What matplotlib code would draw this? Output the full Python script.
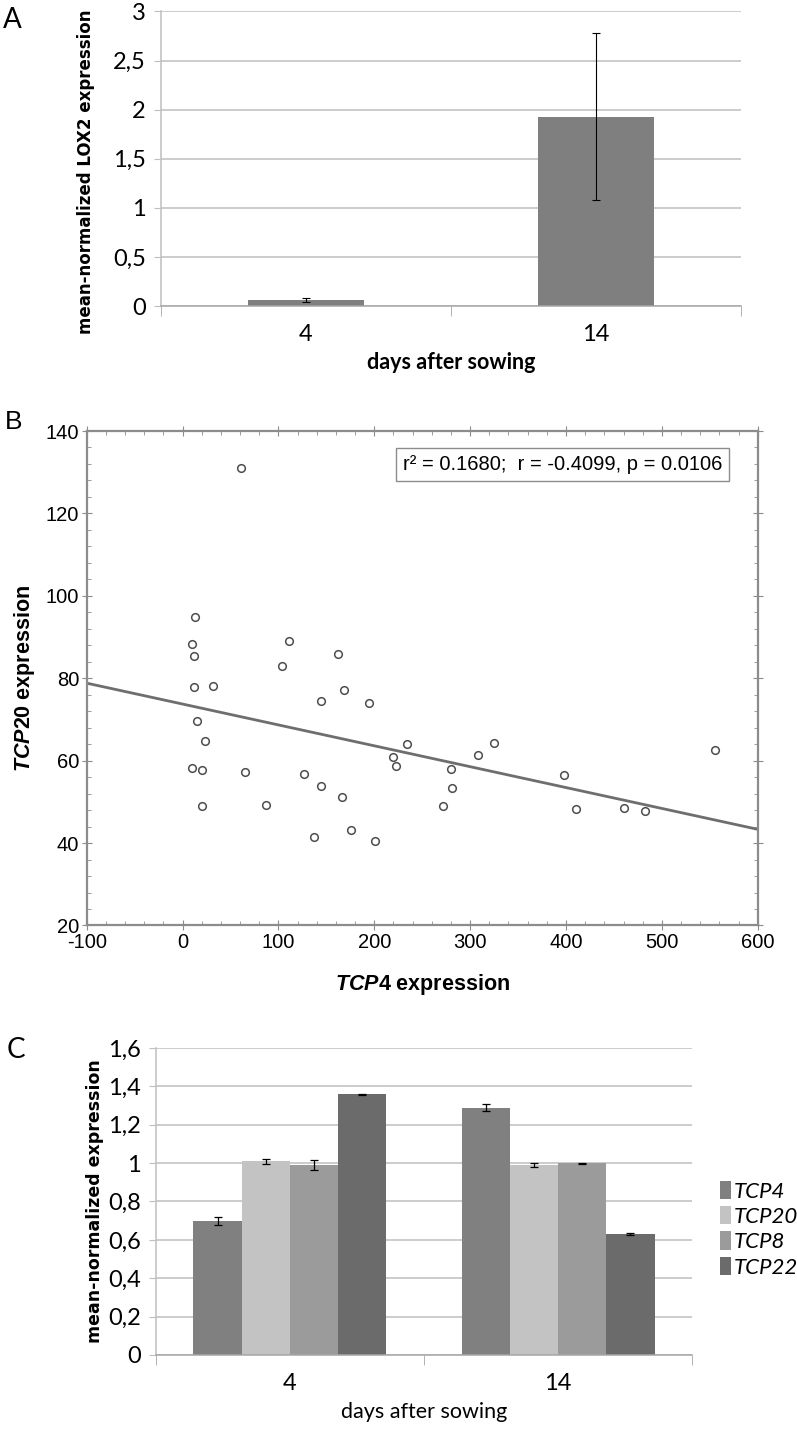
import numpy as np
import matplotlib
matplotlib.use("Agg")
import matplotlib.pyplot as plt
from matplotlib.ticker import MultipleLocator, FixedLocator
from matplotlib.patches import Patch

# -------------------------------------------------
# DATA
# -------------------------------------------------
# Panel A: LOX2
lox2_days = ["4", "14"]
lox2_mean = [0.06, 1.93]
lox2_err = [0.02, 0.85]

# Panel B: TCP4 vs TCP20 expression
tcp4_expr = [60.9, 12.9, 9.5, 12.2, 111.3, 162.4, 104.0, 11.6, 32.0, 144.0,
             15.0, 23.4, 9.5, 20.5, 65.4, 126.9, 144.0, 20.5, 87.0, 168.3,
             194.4, 234.0, 220.0, 222.5, 308.3, 324.7, 279.6, 166.2, 280.9, 271.8,
             397.7, 410.5, 460.0, 482.5, 555.5, 136.7, 175.6, 200.3]
tcp20_expr = [131.0, 94.8, 88.2, 85.3, 89.1, 85.8, 83.0, 77.9, 78.2, 74.4,
              69.7, 64.8, 58.1, 57.7, 57.2, 56.8, 53.8, 49.0, 49.3, 77.2,
              73.9, 64.0, 60.8, 58.7, 61.4, 64.3, 57.9, 51.2, 53.3, 49.1,
              56.4, 48.3, 48.5, 47.8, 62.6, 41.4, 43.1, 40.6]
stats_text = "r\u00b2 = 0.1680;  r = -0.4099, p = 0.0106"

# Panel C: TCP genes
tcp_days = ["4", "14"]
tcp_genes = ["TCP4", "TCP20", "TCP8", "TCP22"]
tcp_day4 = [0.70, 1.01, 0.99, 1.36]
tcp_day4_err = [0.02, 0.014, 0.026, 0.003]
tcp_day14 = [1.29, 0.99, 1.00, 0.63]
tcp_day14_err = [0.018, 0.01, 0.003, 0.007]
tcp_colors = ["#808080", "#c3c3c3", "#9b9b9b", "#6b6b6b"]

# -------------------------------------------------
# STYLE
# -------------------------------------------------
plt.rcParams["axes.unicode_minus"] = False
plt.rcParams["mathtext.fontset"] = "custom"
plt.rcParams["mathtext.it"] = "Liberation Sans:italic:bold"
plt.rcParams["mathtext.rm"] = "Liberation Sans:bold"
plt.rcParams["mathtext.bf"] = "Liberation Sans:bold"

CAL = "Lato"            # stand-in for the Excel default font
ARIAL = "Liberation Sans"
GRID = "#bfbfbf"


def fmt_comma(v):
    return f"{v:g}".replace(".", ",")


def excel_axes(ax, ymax, ystep):
    ax.set_ylim(0, ymax)
    yt = np.arange(0, ymax + ystep / 2, ystep)
    ax.set_yticks(yt)
    ax.set_yticklabels([fmt_comma(round(v, 2)) for v in yt], fontfamily=CAL, fontsize=17)
    ax.grid(True, axis="y", color=GRID, linewidth=1.1)
    ax.set_axisbelow(True)
    for s in ["top", "right"]:
        ax.spines[s].set_visible(False)
    ax.spines["left"].set_color(GRID)
    ax.spines["bottom"].set_color("#a6a6a6")
    ax.spines["left"].set_linewidth(1.1)
    ax.spines["bottom"].set_linewidth(1.1)
    ax.tick_params(axis="y", length=5, color=GRID, pad=6)
    ax.set_xlim(-0.5, 1.5)
    ax.xaxis.set_minor_locator(FixedLocator([-0.5, 0.5, 1.5]))
    ax.tick_params(axis="x", which="major", length=0, pad=13)
    ax.tick_params(axis="x", which="minor", length=7, color="#a6a6a6")


fig = plt.figure(figsize=(7.97, 14.30), dpi=100)

# -------------------------------------------------
# PANEL A
# -------------------------------------------------
axA = fig.add_axes([0.202, 0.786, 0.728, 0.206])
xa = np.arange(len(lox2_days))
axA.bar(xa, lox2_mean, width=0.4, color="#7f7f7f", yerr=lox2_err,
        error_kw=dict(ecolor="black", elinewidth=0.8, capsize=3, capthick=0.8))
excel_axes(axA, 3, 0.5)
axA.set_xticks(xa)
axA.set_xticklabels(lox2_days, fontfamily=CAL, fontsize=17)
axA.set_xlabel("days after sowing", fontfamily=CAL, fontweight="bold", fontsize=15.5, labelpad=5)
fig.text(0.108, 0.880, "mean-normalized LOX2 expression", rotation=90, ha="center", va="center",
         fontfamily="DejaVu Sans", fontweight="bold", fontsize=12)
fig.text(0.004, 0.995, "A", ha="left", va="top", fontfamily=CAL, fontsize=20)

# -------------------------------------------------
# PANEL B
# -------------------------------------------------
axB = fig.add_axes([0.1088, 0.3528, 0.8419, 0.3458])
x = np.array(tcp4_expr)
y = np.array(tcp20_expr)
axB.plot(x, y, "o", markerfacecolor="white", markeredgecolor="#4d4d4d",
         markersize=5.5, markeredgewidth=1.1, zorder=3)
slope, intercept = np.polyfit(x, y, 1)
xl = np.array([-100, 600])
axB.plot(xl, intercept + slope * xl, color="#6e6e6e", linewidth=2, zorder=2)
axB.set_xlim(-100, 600)
axB.set_ylim(20, 140)
axB.xaxis.set_major_locator(MultipleLocator(100))
axB.xaxis.set_minor_locator(MultipleLocator(20))
axB.yaxis.set_major_locator(MultipleLocator(20))
axB.yaxis.set_minor_locator(MultipleLocator(4))
for s in axB.spines.values():
    s.set_color("#8c8c8c")
    s.set_linewidth(1.6)
axB.tick_params(which="both", top=True, right=True, color="#8c8c8c")
axB.tick_params(which="major", direction="inout", length=7, labelsize=14.5, pad=2)
axB.tick_params(which="minor", direction="in", length=3)
for lab in axB.get_xticklabels() + axB.get_yticklabels():
    lab.set_fontfamily(ARIAL)
axB.set_xlabel(r"$\mathit{TCP4}$ expression", fontfamily=ARIAL, fontweight="bold",
               fontsize=15.5, labelpad=14)
axB.set_ylabel(r"$\mathit{TCP20}$ expression", fontfamily=ARIAL, fontweight="bold",
               fontsize=15.5, labelpad=6)
axB.text(0.947, 0.952, stats_text, transform=axB.transAxes, ha="right", va="top",
         fontfamily=ARIAL, fontsize=14.5,
         bbox=dict(boxstyle="square,pad=0.35", facecolor="white", edgecolor="#8c8c8c", linewidth=1))
fig.text(0.006, 0.713, "B", ha="left", va="top", fontfamily=ARIAL, fontsize=19)

# -------------------------------------------------
# PANEL C
# -------------------------------------------------
axC = fig.add_axes([0.1957, 0.0525, 0.6726, 0.2146])
xc = np.arange(len(tcp_days))
bw = 0.18
for i, gene in enumerate(tcp_genes):
    vals = [tcp_day4[i], tcp_day14[i]]
    errs = [tcp_day4_err[i], tcp_day14_err[i]]
    axC.bar(xc + (i - 1.5) * bw, vals, width=bw, color=tcp_colors[i], yerr=errs,
            error_kw=dict(ecolor="black", elinewidth=0.9, capsize=3, capthick=0.9),
            label=gene)
excel_axes(axC, 1.6, 0.2)
axC.set_xticks(xc)
axC.set_xticklabels(tcp_days, fontfamily=CAL, fontsize=17)
axC.set_xlabel("days after sowing", fontfamily=CAL, fontsize=15.5, labelpad=6)
fig.text(0.119, 0.160, "mean-normalized expression", rotation=90, ha="center", va="center",
         fontfamily="DejaVu Sans", fontweight="bold", fontsize=12.5)
handles = [Patch(facecolor=c, edgecolor="none") for c in tcp_colors]
axC.legend(handles, tcp_genes, loc="center left", bbox_to_anchor=(1.035, 0.41), frameon=False,
           prop=dict(family=CAL, style="italic", size=16), handlelength=0.5,
           handleheight=0.9, handletextpad=0.15, labelspacing=0.2, borderaxespad=0)
fig.text(0.008, 0.275, "C", ha="left", va="top", fontfamily=CAL, fontsize=20)

fig.savefig("out.png", dpi=100)
